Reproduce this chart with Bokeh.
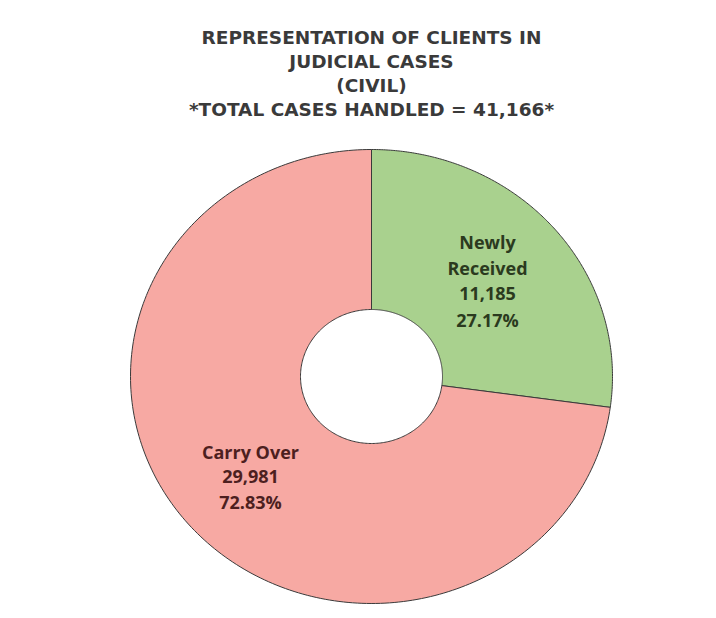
import numpy as np
from bokeh.plotting import figure
from bokeh.models import ColumnDataSource, Range1d
from bokeh.core.properties import value
from bokeh.embed import file_html
from bokeh.resources import INLINE

# ---- data ----
categories = ["Newly Received", "Carry Over"]
counts = [11185, 29981]
percent_labels = ["27.17%", "72.83%"]
count_labels = ["11,185", "29,981"]
title_lines = ["REPRESENTATION OF CLIENTS IN", "JUDICIAL CASES", "(CIVIL)",
               "*TOTAL CASES HANDLED = 41,166*"]
colors = ["#a9d18e", "#f7a9a3"]
text_colors = ["#2b3a1e", "#4d1f1f"]

W, H = 708, 610
p = figure(width=W, height=H, output_backend="svg", toolbar_location=None,
           x_range=Range1d(0, W), y_range=Range1d(0, H), min_border=0)
p.axis.visible = False
p.grid.visible = False
p.outline_line_color = None
p.background_fill_color = "white"
p.border_fill_color = "white"

def Y(py):
    return H - py

# layout (pixel-like units)
cx, cy = 371, Y(376)
rx_o, ry_o = 241, 227
rx_i, ry_i = 71, 67

vals = np.array(counts, dtype=float)
fr = vals / vals.sum()
ends = np.cumsum(fr)
starts = ends - fr
xs, ys = [], []
for s, e in zip(starts, ends):
    a0 = np.pi / 2 - 2 * np.pi * s
    a1 = np.pi / 2 - 2 * np.pi * e
    t = np.linspace(a0, a1, 240)
    ox = cx + rx_o * np.cos(t)
    oy = cy + ry_o * np.sin(t)
    ix = cx + rx_i * np.cos(t[::-1])
    iy = cy + ry_i * np.sin(t[::-1])
    xs.append(list(np.concatenate([ox, ix])))
    ys.append(list(np.concatenate([oy, iy])))

src = ColumnDataSource(dict(xs=xs, ys=ys, color=colors, cat=categories))
p.patches("xs", "ys", source=src, fill_color="color", line_color="#3a3a3a",
          line_width=1)

# title
title_y = [37, 61, 85, 109]
p.text(x=[371] * 4, y=[Y(v) for v in title_y], text=title_lines,
       text_font=value("DejaVu Sans"), text_font_style="bold", text_font_size="18.5px",
       text_color="#3a3a3a", text_align="center", text_baseline="middle")

# slice labels
lab_x = [487, 250]
lab_top = [241, 451]
lab_step = [26, 25]
for i in range(2):
    lines = (categories[i].split(" ") if i == 0 else [categories[i]]) + \
            [count_labels[i], percent_labels[i]]
    n = len(lines)
    p.text(x=[lab_x[i]] * n, y=[Y(lab_top[i] + lab_step[i] * k) for k in range(n)],
           text=lines, text_font=value("Open Sans"), text_font_style="bold",
           text_font_size="18px", text_color=text_colors[i],
           text_align="center", text_baseline="middle")

open("out.html", "w").write(file_html(p, INLINE))
